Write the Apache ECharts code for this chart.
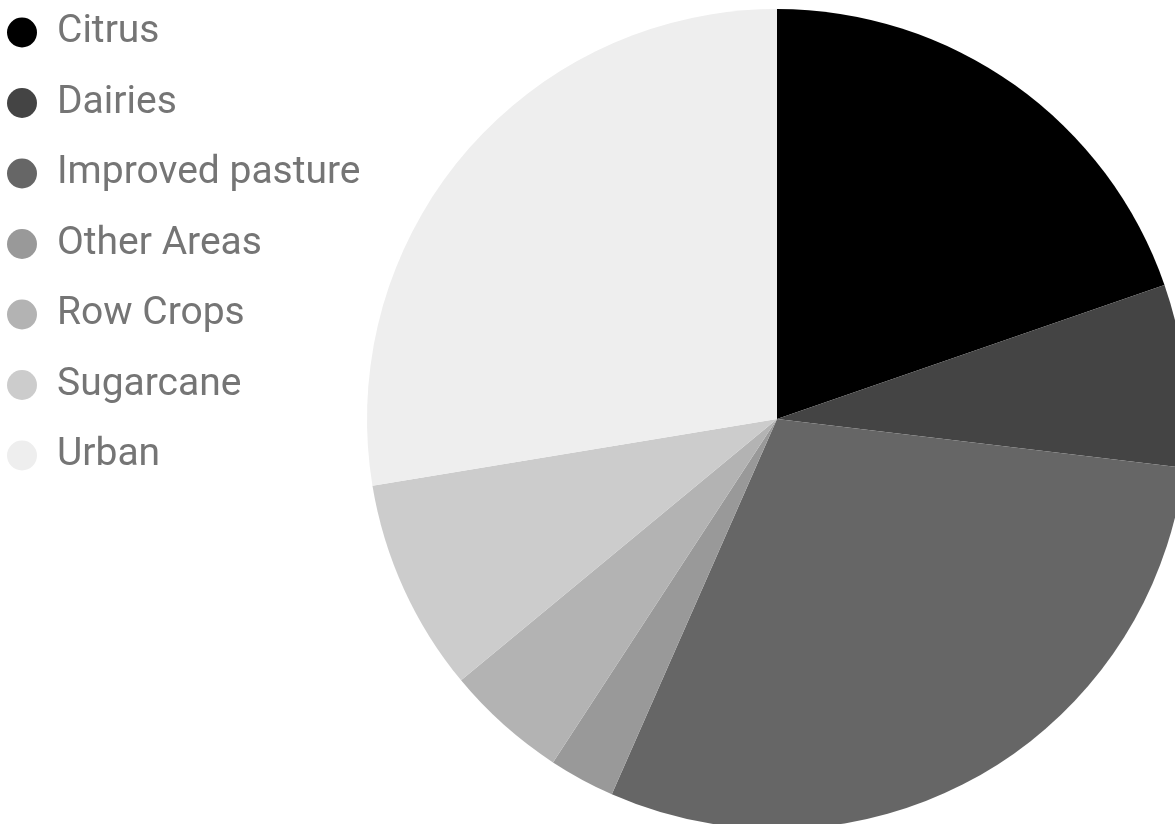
<!DOCTYPE html>
<html>
<head>
<meta charset="utf-8">
<style>
  html, body { margin: 0; padding: 0; background: #ffffff; }
  #chart { width: 1175px; height: 824px; }
</style>
<script src="https://cdn.jsdelivr.net/npm/echarts@6/dist/echarts.min.js"></script>
</head>
<body>
<div id="chart"></div>
<script>
// Land use shares (percent of total area)
const categories = ['Citrus', 'Dairies', 'Improved pasture', 'Other Areas', 'Row Crops', 'Sugarcane', 'Urban'];
const shares = [19.7, 7.2, 29.7, 2.6, 4.8, 8.4, 27.6];
const sliceColors = ['#000000', '#444444', '#666666', '#999999', '#b3b3b3', '#cccccc', '#eeeeee'];

const chart = echarts.init(document.getElementById('chart'), null, { renderer: 'canvas' });

chart.setOption({
  animation: false,
  legend: {
    orient: 'vertical',
    left: 2,
    top: 8,
    itemWidth: 30,
    itemHeight: 30,
    itemGap: 31.5,
    icon: 'circle',
    data: categories,
    textStyle: {
      fontFamily: 'Roboto',
      fontSize: 39,
      color: '#757575',
      height: 39,
      lineHeight: 45,
      padding: [0, 0, 0, 15]
    }
  },
  series: [{
    type: 'pie',
    center: [777, 419],
    radius: 410,
    startAngle: 90,
    clockwise: true,
    label: { show: false },
    labelLine: { show: false },
    emphasis: { disabled: true },
    itemStyle: { borderWidth: 0 },
    data: categories.map((name, i) => ({
      name,
      value: shares[i],
      itemStyle: { color: sliceColors[i] }
    }))
  }]
});
</script>
</body>
</html>
